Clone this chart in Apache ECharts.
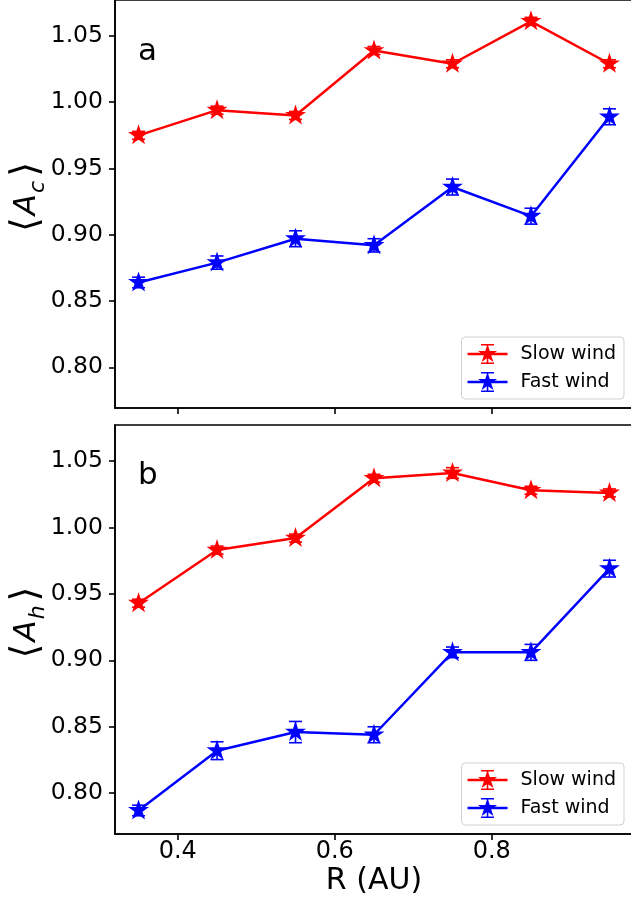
<!DOCTYPE html>
<html>
<head>
<meta charset="utf-8">
<script src="https://cdn.jsdelivr.net/npm/echarts@6/dist/echarts.min.js"></script>
<style>
html,body{margin:0;padding:0;background:#fff;}
#chart{width:631px;height:905px;}
</style>
</head>
<body>
<div id="chart"></div>
<script>
// ---- data ----
const R = [0.35, 0.45, 0.55, 0.65, 0.75, 0.85, 0.95];
const acSlow = [0.975, 0.994, 0.990, 1.039, 1.029, 1.061, 1.029];
const acSlowErr = [0.003, 0.003, 0.003, 0.003, 0.003, 0.003, 0.003];
const acFast = [0.864, 0.879, 0.897, 0.892, 0.936, 0.914, 0.989];
const acFastErr = [0.004, 0.005, 0.006, 0.005, 0.006, 0.006, 0.006];
const ahSlow = [0.943, 0.983, 0.992, 1.037, 1.041, 1.028, 1.026];
const ahSlowErr = [0.003, 0.003, 0.003, 0.003, 0.004, 0.003, 0.003];
const ahFast = [0.787, 0.832, 0.846, 0.844, 0.906, 0.906, 0.969];
const ahFastErr = [0.004, 0.0067, 0.008, 0.006, 0.004, 0.006, 0.0063];
const yTicks = [0.80, 0.85, 0.90, 0.95, 1.00, 1.05];
const xTicks = [0.4, 0.6, 0.8];
const seriesNames = ['Slow wind', 'Fast wind'];
const panelLetters = ['a', 'b'];

const FONT = 'DejaVu Sans';
const STAR = 'path://M0,-100 L22.45,-30.9 L95.11,-30.9 L36.33,11.8 L58.78,80.9 L0,38.2 L-58.78,80.9 L-36.33,11.8 L-95.11,-30.9 L-22.45,-30.9 Z';
// legend glyph: line + star + error bar with caps (400 x 200 box)
const LEGEND_ICON = 'path://' +
  'M0,97.5 L400,97.5 L400,122.5 L0,122.5 Z ' +
  'M192,10 L208,10 L208,210 L192,210 Z ' +
  'M135,10 L265,10 L265,26 L135,26 Z ' +
  'M135,194 L265,194 L265,210 L135,210 Z ' +
  'M200,10 L222.45,79.1 L295.11,79.1 L236.33,121.8 L258.78,190.9 L200,148.2 L141.22,190.9 L163.67,121.8 L104.89,79.1 L177.55,79.1 Z';
const RED = '#ff0000', BLUE = '#0000ff';

function pairs(xs, ys) { return xs.map((x, i) => [x, ys[i]]); }
function triples(xs, ys, es) { return xs.map((x, i) => [x, ys[i], es[i]]); }

function lineSeries(name, idx, ys, color) {
  return {
    type: 'line', name: name, xAxisIndex: idx, yAxisIndex: idx,
    data: pairs(R, ys), symbol: STAR, symbolSize: 21, symbolKeepAspect: true,
    symbolOffset: [0, -1],
    lineStyle: { color: color, width: 2.5 }, itemStyle: { color: color },
    emphasis: { disabled: true }, animation: false, z: 3
  };
}
function errSeries(name, idx, ys, es, color) {
  return {
    type: 'custom', name: name + ' err', xAxisIndex: idx, yAxisIndex: idx,
    data: triples(R, ys, es), animation: false, z: 4,
    renderItem: function (params, api) {
      const x = api.value(0), y = api.value(1), e = api.value(2);
      const t = api.coord([x, y + e]), b = api.coord([x, y - e]);
      const cw = 6.5;
      const st = { stroke: color, lineWidth: 1.6 };
      return {
        type: 'group', children: [
          { type: 'line', shape: { x1: t[0], y1: t[1], x2: b[0], y2: b[1] }, style: st },
          { type: 'line', shape: { x1: t[0] - cw, y1: t[1], x2: t[0] + cw, y2: t[1] }, style: st },
          { type: 'line', shape: { x1: b[0] - cw, y1: b[1], x2: b[0] + cw, y2: b[1] }, style: st }
        ]
      };
    }
  };
}

const grids = [
  { left: 115, top: 0, width: 518, height: 408 },
  { left: 115, top: 425, width: 518, height: 409 }
].map(g => Object.assign(g, { show: true, borderColor: '#000', borderWidth: 1.6, backgroundColor: 'transparent', containLabel: false, outerBoundsMode: 'none' }));

function xAxis(idx, showLabel) {
  return {
    type: 'value', gridIndex: idx, min: 0.32, max: 0.98,
    axisLine: { show: true, onZero: false, lineStyle: { color: '#000', width: 1.6 } },
    axisTick: { show: true, inside: false, length: 6, customValues: xTicks, lineStyle: { color: '#000', width: 1.6 } },
    axisLabel: { show: showLabel, customValues: xTicks, formatter: v => v.toFixed(1), fontFamily: FONT, fontSize: 24, color: '#000', margin: 6 },
    splitLine: { show: false },
    name: showLabel ? 'R (AU)' : '', nameLocation: 'middle', nameGap: 32, nameMoveOverlap: false,
    nameTextStyle: { fontFamily: FONT, fontSize: 30, color: '#000' }
  };
}
function yAxis(idx, sub) {
  return {
    type: 'value', gridIndex: idx, min: 0.7693, max: 1.0771,
    axisLine: { show: true, onZero: false, lineStyle: { color: '#000', width: 1.6 } },
    axisTick: { show: true, inside: false, length: 6, customValues: yTicks, lineStyle: { color: '#000', width: 1.6 } },
    axisLabel: { show: true, customValues: yTicks, formatter: v => v.toFixed(2), fontFamily: FONT, fontSize: 23.5, color: '#000', margin: 12 },
    splitLine: { show: false },
    name: '{b|⟨}{i|A}{s|' + sub + '}{b|⟩}', nameLocation: 'middle', nameGap: 66, nameRotate: 90,
    nameMoveOverlap: false,
    nameTextStyle: {
      fontFamily: FONT, fontSize: 30, color: '#000', padding: [0, 0, 0, 14],
      rich: {
        b: { fontFamily: FONT, fontSize: 38, color: '#000', lineHeight: 44, verticalAlign: 'middle', padding: [0, 2, 0, 2] },
        i: { fontFamily: FONT, fontSize: 31, fontStyle: 'italic', color: '#000', lineHeight: 44, verticalAlign: 'middle' },
        s: { fontFamily: FONT, fontSize: 22, fontStyle: 'italic', color: '#000', lineHeight: 44, verticalAlign: 'bottom', padding: [0, 2, 0, 1] }
      }
    }
  };
}
function legend(idx, top) {
  return {
    data: seriesNames.map(n => ({ name: n, icon: LEGEND_ICON })),
    orient: 'vertical', right: 7, top: top,
    itemWidth: 40, itemHeight: 20, itemGap: 8,
    padding: [7, 8, 7, 6],
    backgroundColor: '#fff', borderColor: '#d0d0d0', borderWidth: 1, borderRadius: 4,
    itemStyle: { borderWidth: 0 },
    textStyle: { fontFamily: FONT, fontSize: 19, color: '#000', padding: [0, 0, 0, 8] },
    selectedMode: false
  };
}

const option = {
  animation: false,
  backgroundColor: '#fff',
  grid: grids,
  xAxis: [xAxis(0, false), xAxis(1, true)],
  yAxis: [yAxis(0, 'c'), yAxis(1, 'h')],
  legend: [legend(0, 337), legend(1, 763)],
  series: [
    lineSeries(seriesNames[0], 0, acSlow, RED),
    lineSeries(seriesNames[1], 0, acFast, BLUE),
    errSeries(seriesNames[0], 0, acSlow, acSlowErr, RED),
    errSeries(seriesNames[1], 0, acFast, acFastErr, BLUE),
    lineSeries(seriesNames[0], 1, ahSlow, RED),
    lineSeries(seriesNames[1], 1, ahFast, BLUE),
    errSeries(seriesNames[0], 1, ahSlow, ahSlowErr, RED),
    errSeries(seriesNames[1], 1, ahFast, ahFastErr, BLUE)
  ],
  graphic: [
    { type: 'text', x: 138, y: 52, style: { text: panelLetters[0], fontFamily: FONT, fontSize: 31, fill: '#000', verticalAlign: 'middle', align: 'left' } },
    { type: 'text', x: 138, y: 476, style: { text: panelLetters[1], fontFamily: FONT, fontSize: 31, fill: '#000', verticalAlign: 'middle', align: 'left' } }
  ]
};

const chart = echarts.init(document.getElementById('chart'), null, { renderer: 'canvas' });
chart.setOption(option);
</script>
</body>
</html>
